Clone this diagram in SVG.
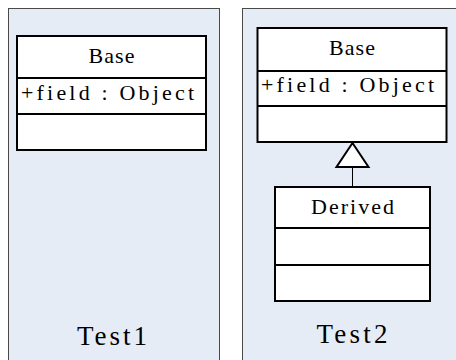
<svg xmlns="http://www.w3.org/2000/svg" width="456" height="360" viewBox="0 0 456 360">
<style>
.panel{fill:#E6ECF6;stroke:#4a4a4a;stroke-width:1}
.box{fill:#fff;stroke:#000;stroke-width:2}
.div{stroke:#000;stroke-width:2}
text{font-family:"Liberation Serif","DejaVu Serif",serif;fill:#000}
.t{font-size:22px}
.c{text-anchor:middle}
.lbl{font-size:27px;text-anchor:middle}
.conn{stroke:#000;stroke-width:1;fill:none}
</style>
<rect width="456" height="360" fill="#fff"/>
<g id="test1">
<rect class="panel" x="8.5" y="8.5" width="211" height="360"/>
<text class="lbl" x="112" y="345" textLength="70" lengthAdjust="spacing">Test1</text>
</g>
<g id="test2">
<rect class="panel" x="242.5" y="8.5" width="220" height="360"/>
<text class="lbl" x="352" y="343" textLength="71" lengthAdjust="spacing">Test2</text>
</g>
<g id="base1">
<rect class="box" x="17" y="36" width="189" height="114"/>
<line class="div" x1="17" y1="78" x2="206" y2="78"/>
<line class="div" x1="17" y1="114" x2="206" y2="114"/>
<text class="t c" x="111.5" y="63" textLength="46" lengthAdjust="spacing">Base</text>
<text class="t" x="21" y="100" textLength="173" lengthAdjust="spacing">+field : Object</text>
</g>
<g id="base2">
<rect class="box" x="257.5" y="28" width="189" height="114"/>
<line class="div" x1="257.5" y1="71" x2="446.5" y2="71"/>
<line class="div" x1="257.5" y1="106" x2="446.5" y2="106"/>
<text class="t c" x="352" y="55" textLength="46" lengthAdjust="spacing">Base</text>
<text class="t" x="261" y="92" textLength="173" lengthAdjust="spacing">+field : Object</text>
</g>
<g id="derived">
<rect class="box" x="275" y="187" width="155" height="114"/>
<line class="div" x1="275" y1="228" x2="430" y2="228"/>
<line class="div" x1="275" y1="265" x2="430" y2="265"/>
<text class="t c" x="352.5" y="214" textLength="83" lengthAdjust="spacing">Derived</text>
</g>
<g id="connectors">
<line class="conn" x1="352.5" y1="167" x2="352.5" y2="187"/>
<polygon points="352.5,143 336.5,167 368.5,167" fill="#fff" stroke="#000" stroke-width="2" stroke-linejoin="miter"/>
</g>
</svg>
